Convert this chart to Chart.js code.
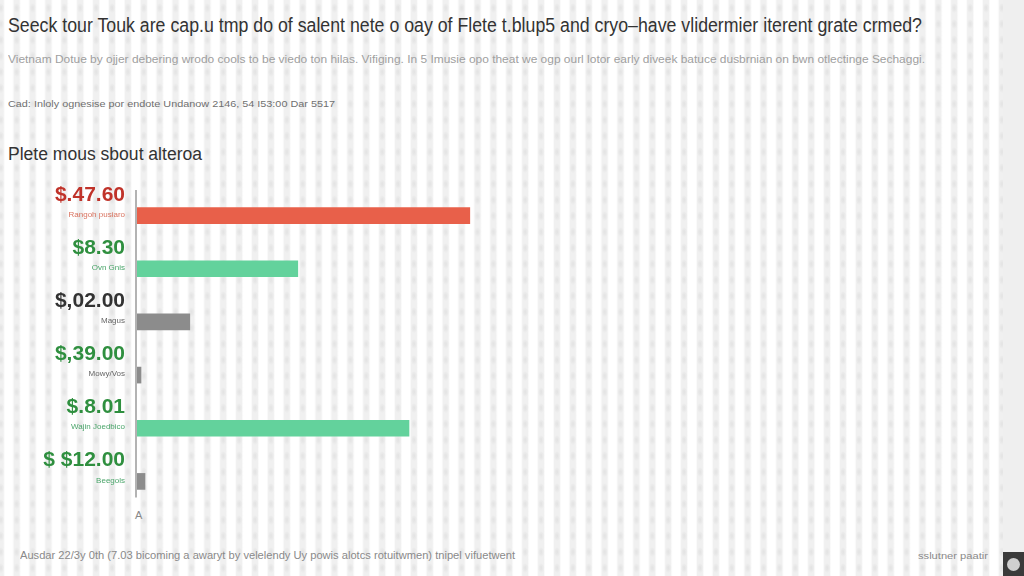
<!DOCTYPE html>
<html>
<head>
<meta charset="utf-8">
<script src="https://cdn.jsdelivr.net/npm/chart.js@4.4.1/dist/chart.umd.min.js"></script>
<style>
  html, body { margin: 0; padding: 0; }
  body {
    width: 1024px; height: 576px; overflow: hidden; position: relative;
    font-family: "Liberation Sans", Arial, sans-serif;
    background-color: #fff;
    background-image:
      radial-gradient(ellipse 3px 5px at 8px 8px, #e2e2e2 0%, rgba(228,228,228,0.6) 55%, rgba(255,255,255,0) 100%),
      linear-gradient(90deg, rgba(255,255,255,0) 4px, #f0f0f0 5.5px, #f0f0f0 10.5px, rgba(255,255,255,0) 12px);
    background-size: 15.9px 16px;
    background-position: -7.2px 0;
  }
  .txt { position: absolute; white-space: nowrap; transform-origin: 0 50%; }
  #panel { position: absolute; left: 1003px; top: 0; width: 21px; height: 576px; background: #efefef; }
  #icon { position: absolute; left: 1003px; top: 552px; width: 21px; height: 24px; background: #3a3a3a; }
  #icon div { position: absolute; left: 4px; top: 6px; width: 13px; height: 13px; border-radius: 50%; background: #cfcfcf; }
  canvas { position: absolute; left: 0; top: 0; }
</style>
</head>
<body>
<div id="panel"></div>
<div id="icon"><div></div></div>

<div class="txt" data-w="914" style="left:8px; top:14px; font-size:20px; color:#333;">Seeck tour Touk are cap.u tmp do of salent nete o oay of Flete t.blup5 and cryo–have vlidermier iterent grate crmed?</div>
<div class="txt" data-w="917" style="left:8px; top:54px; font-size:10px; color:#a0a0a0;">Vietnam Dotue by ojjer debering wrodo cools to be viedo ton hilas. Vifiging. In 5 Imusie opo theat we ogp ourl lotor early diveek batuce dusbrnian on bwn otlectinge Sechaggi.</div>
<div class="txt" data-w="327" style="left:8px; top:99px; font-size:9px; color:#707070;">Cad: Inloly ognesise por endote Undanow 2146, 54 I53:00 Dar 5517</div>
<div class="txt" data-w="194" style="left:8px; top:144px; font-size:18px; color:#333;">Plete mous sbout alteroa</div>
<div class="txt" data-w="495" style="left:20px; top:550px; font-size:10px; color:#8a8a8a;">Ausdar 22/3y 0th (7.03 bicoming a awaryt by velelendy Uy powis alotcs rotuitwmen) tnipel vifuetwent</div>
<div class="txt" data-w="70" style="left:918px; top:551px; font-size:9px; color:#8a8a8a;">sslutner paatir</div>
<div class="txt" style="left:135px; top:509px; font-size:11px; color:#888;">A</div>

<canvas id="barChart" width="1024" height="576"></canvas>

<script>
// bar lengths (0-100 scale)
const categories = ['Rangoh pusiaro', 'Ovn Gnis', 'Magus', 'Mowy/Vos', 'Wajin Joedbico', 'Beegols'];
const barValues = [41.6, 20.1, 6.6, 0.5, 34.0, 1.0];
const valueLabels = ['$.47.60', '$8.30', '$,02.00', '$,39.00', '$.8.01', '$ $12.00'];

const barColors = ['#e8604a', '#63d29c', '#8c8c8c', '#8c8c8c', '#63d29c', '#8c8c8c'];
const valueColors = ['#c0332a', '#2f8f3f', '#333333', '#2f8f3f', '#2f8f3f', '#2f8f3f'];
const catColors = ['#d9735f', '#4aa56a', '#666666', '#666666', '#4aa56a', '#4aa56a'];

// squeeze header texts to the widths they take in the picture
document.querySelectorAll('.txt[data-w]').forEach(function (el) {
    const w = el.getBoundingClientRect().width;
    el.style.transform = 'scaleX(' + (el.dataset.w / w) + ')';
});

const sideLabels = {
    id: 'sideLabels',
    afterDatasetsDraw(chart) {
        const ctx = chart.ctx;
        const yScale = chart.scales.y;
        const area = chart.chartArea;
        ctx.save();
        // axis line, stops just under the last bar
        ctx.strokeStyle = '#9a9a9a';
        ctx.lineWidth = 1.5;
        ctx.beginPath();
        ctx.moveTo(area.left - 1, area.top + 1);
        ctx.lineTo(area.left - 1, yScale.getPixelForValue(categories.length - 1) + 16);
        ctx.stroke();

        ctx.textAlign = 'right';
        categories.forEach(function (cat, i) {
            const y = yScale.getPixelForValue(i);
            ctx.font = 'bold 21px "Liberation Sans", Arial, sans-serif';
            ctx.fillStyle = valueColors[i];
            ctx.textBaseline = 'alphabetic';
            ctx.fillText(valueLabels[i], 125, y - 15);
            ctx.font = '8px "Liberation Sans", Arial, sans-serif';
            ctx.fillStyle = catColors[i];
            ctx.textBaseline = 'middle';
            ctx.fillText(cat, 125, y - 1);
        });
        ctx.restore();
    }
};

const config = {
    type: 'bar',
    data: {
        labels: categories,
        datasets: [{
            data: barValues,
            backgroundColor: barColors,
            barThickness: 16,
            borderWidth: 0
        }]
    },
    options: {
        indexAxis: 'y',
        responsive: false,
        animation: false,
        layout: { padding: { left: 137, right: 87, top: 189, bottom: 68 } },
        plugins: { legend: { display: false }, tooltip: { enabled: false } },
        scales: {
            x: { display: false, min: 0, max: 100 },
            y: { display: false }
        }
    },
    plugins: [sideLabels]
};

var barChart = new Chart(document.getElementById('barChart'), config);
</script>
</body>
</html>
